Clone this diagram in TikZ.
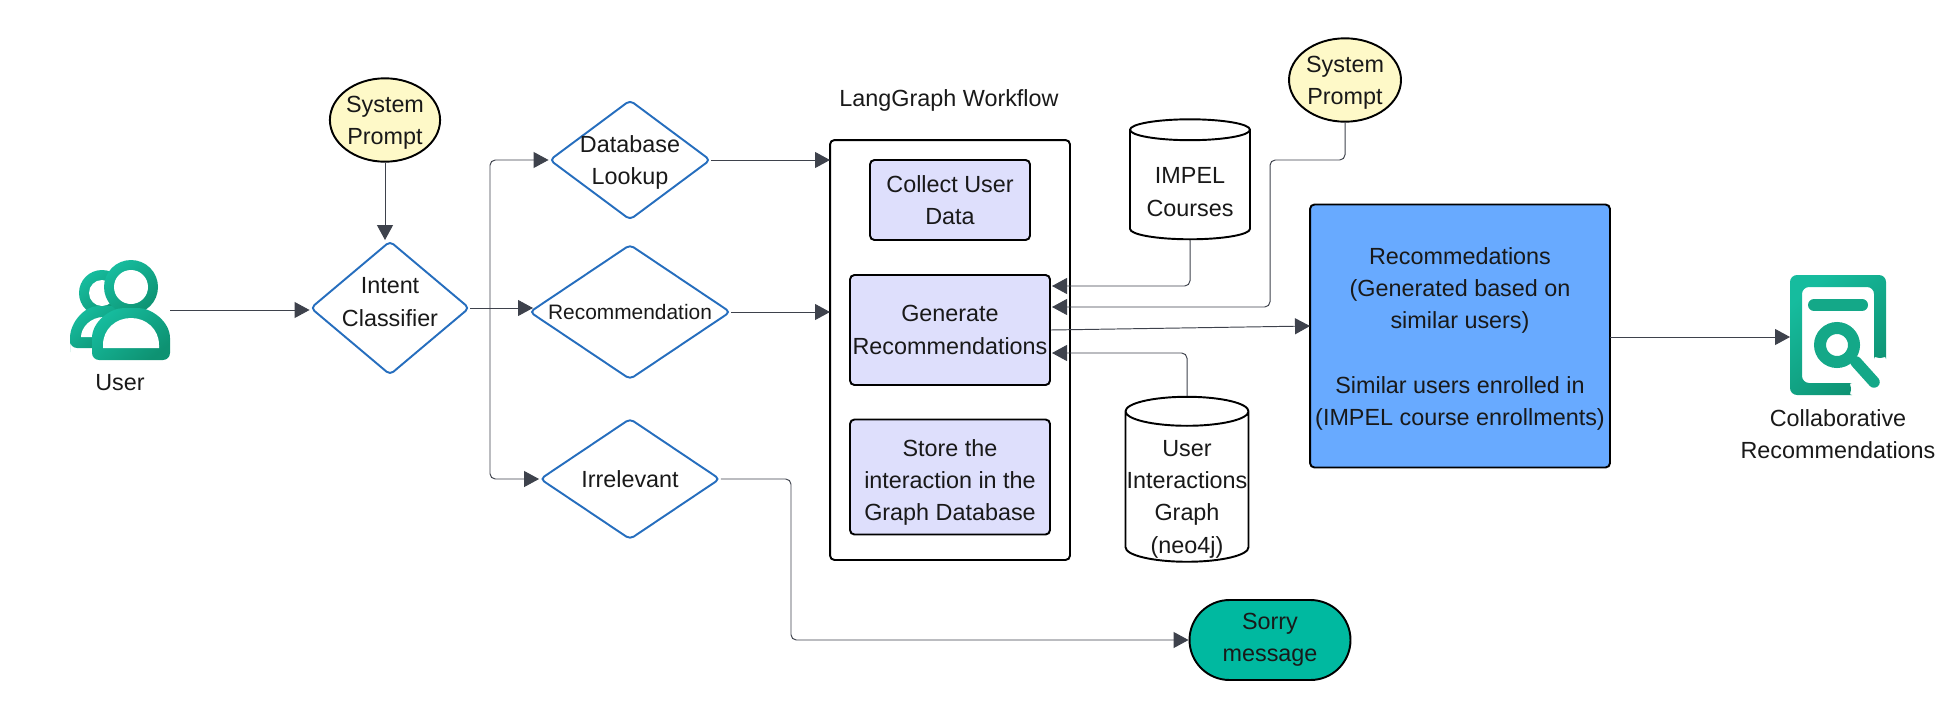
\documentclass[tikz,border=0pt]{standalone}
\usepackage{fontspec}
\setmainfont{Liberation Sans}
\usetikzlibrary{shapes.geometric,arrows.meta}
\definecolor{arrowgray}{RGB}{62,66,76}
\definecolor{promptyellow}{RGB}{254,249,200}
\definecolor{steplav}{RGB}{222,223,252}
\definecolor{resultblue}{RGB}{104,170,255}
\definecolor{sorryteal}{RGB}{0,185,160}
\definecolor{choiceblue}{RGB}{38,110,190}
\definecolor{iconlight}{RGB}{22,188,158}
\definecolor{iconmid}{RGB}{20,168,136}
\definecolor{icondark}{RGB}{14,146,114}
\newcommand{\lift}[1]{\rule{0pt}{#1}}
\tikzset{
  txt/.style={font=\fontsize{13.3}{18.4}\selectfont,text=black!90,align=center,inner sep=0pt},
  flow/.style={draw=arrowgray,line width=0.55pt,-{Triangle[length=0.3cm,width=0.32cm]},rounded corners=3pt},
  prompt/.style={txt,ellipse,draw=black,line width=1.1pt,fill=promptyellow,minimum width=2.2cm,minimum height=1.6cm},
  choice/.style={diamond,draw=choiceblue,line width=1.1pt,rounded corners=2.5pt,inner sep=0pt},
  dlabel/.style={txt},
  stepbox/.style={txt,rectangle,draw=black,line width=1.1pt,fill=steplav,rounded corners=2.5pt},
  store/.style={txt,cylinder,shape border rotate=90,draw=black,line width=1.1pt,fill=white,minimum width=2.4cm,shape aspect=0.24},
  iconshade/.style={left color=iconlight,right color=icondark,shading angle=40},
}
\begin{document}
\begin{tikzpicture}[x=0.02cm,y=-0.02cm]
\useasboundingbox (0,0) rectangle (1956,720);
% user icon
\shade[iconshade] (102,293) circle (23); \fill[white] (102,293) circle (13);
\shade[iconshade,rounded corners=4] (70,348) -- (70,345) .. controls (70,322) and (85,306) .. (105,306) -- (125,306) -- (125,348) -- cycle;
\fill[white] (81,337) .. controls (81,328) and (90,317) .. (104,317) -- (110,337) -- cycle;
\shade[iconshade] (131,287) circle (27); \fill[white] (131,287) circle (17);
\shade[iconshade,rounded corners=4] (92,360) -- (92,345) .. controls (92,322) and (110,308) .. (131,308) .. controls (152,308) and (170,322) .. (170,345) -- (170,360) -- cycle;
\fill[white] (103,348) -- (103,345) .. controls (103,329) and (116,318) .. (131,318) .. controls (146,318) and (159,329) .. (159,345) -- (159,348) -- cycle;
\node[txt] (user) at (120,383) {User};
\coordinate (userOut) at (170,310);
% nodes
\node[prompt] (sysA) at (385,120) {\lift{12.4pt}System\\Prompt};
\node[choice,minimum width=3.18cm,minimum height=2.68cm,label={[dlabel,yshift=0.12cm]center:Intent\\Classifier}] (intent) at (390,308) {};
\node[choice,minimum width=3.22cm,minimum height=2.4cm,label={[dlabel,yshift=-0.05cm]center:Database\\Lookup}] (db) at (630,160) {};
\node[choice,minimum width=4.02cm,minimum height=2.7cm,label={[dlabel,font=\fontsize{11.9}{16}\selectfont]center:Recommendation}] (rec) at (630,312) {};
\node[choice,minimum width=3.6cm,minimum height=2.42cm,label={[dlabel]center:Irrelevant}] (irr) at (630,479) {};
\node[txt] (wfTitle) at (949,100) {LangGraph Workflow};
\node[rectangle,draw=black,line width=1.1pt,rounded corners=2.5pt,minimum width=4.8cm,minimum height=8.4cm] (wf) at (950,350) {};
\node[stepbox,minimum width=3.2cm,minimum height=1.6cm] (collect) at (950,200) {Collect User\\Data};
\node[stepbox,minimum width=4cm,minimum height=2.2cm] (gen) at (950,330) {Generate\\Recommendations};
\node[stepbox,minimum width=4cm,minimum height=2.3cm] (keep) at (950,477) {\lift{16pt}Store the\\interaction in the\\Graph Database};
\node[store,minimum height=2.4cm] (courses) at (1190,185) {\phantom{Courses}};
\node[dlabel] (coursesText) at (1190,192) {IMPEL\\Courses};
\node[store,minimum height=3.3cm,minimum width=2.46cm] (graph) at (1187,487) {\phantom{Interactions}};
\node[dlabel] (graphText) at (1187,499) {User\\Interactions\\Graph\\(neo4j)};
\node[prompt,minimum width=2.24cm,minimum height=1.6cm] (sysB) at (1345,80) {\lift{12.4pt}System\\Prompt};
\node[txt,rectangle,draw=black,line width=1.1pt,fill=resultblue,rounded corners=2.5pt,minimum width=6cm,minimum height=5.26cm] (result) at (1460,336) {\lift{13pt}Recommedations\\(Generated based on\\similar users)\\[18.4pt]Similar users enrolled in\\(IMPEL course enrollments)};
\node[txt,rectangle,draw=black,line width=1.1pt,fill=sorryteal,rounded corners=0.8cm,minimum width=3.22cm,minimum height=1.6cm] (sorry) at (1270,640) {Sorry\\message};
% doc icon
\shade[iconshade,rounded corners=4] (1790,275) -- (1886,275) -- (1886,352) arc (0:180:6) -- (1874,287) -- (1802,287) -- (1802,383) -- (1845,383) arc (-90:90:6) -- (1790,395) -- cycle;
\draw[iconmid,line width=0.24cm,line cap=round] (1814,305) -- (1862,305);
\draw[iconmid,line width=0.24cm] (1837,345) circle (17);
\draw[iconmid,line width=0.23cm,line cap=round] (1856,362) -- (1874,382);
\node[txt] (collab) at (1838,434) {Collaborative\\Recommendations};
\coordinate (collabIn) at (1790,337);
% connectors
\coordinate (split) at (490,308); \coordinate (recIn) at (533,308); \coordinate (wfDb) at (830,160); \coordinate (wfRec) at (830,312);
\coordinate (genA) at (1052,286); \coordinate (genB) at (1052,307); \coordinate (genC) at (1052,353); \coordinate (resIn) at (1310,326);
\coordinate (resOut) at (1610,337); \coordinate (bendA) at (1270,160); \coordinate (bendB) at (791,560);
\draw[flow] (userOut) -- (userOut-|intent.west);
\draw[flow] (sysA) -- (sysA|-intent.north);
\draw[flow] (intent.east) -- (recIn);
\draw[flow] (split) |- (db.west);
\draw[flow] (split) |- (irr.west);
\draw[flow] (db.east) -- (wfDb);
\draw[flow] (rec.east) -- (wfRec);
\draw[flow] (irr.east) -| (bendB) |- (sorry.west);
\draw[flow] (courses.south) |- (genA);
\draw[flow] (sysB.south) |- (bendA) |- (genB);
\draw[flow] (graph.north) |- (genC);
\draw[flow] (gen.east) -- (resIn);
\draw[flow] (resOut) -- (collabIn);
\end{tikzpicture}
\end{document}
